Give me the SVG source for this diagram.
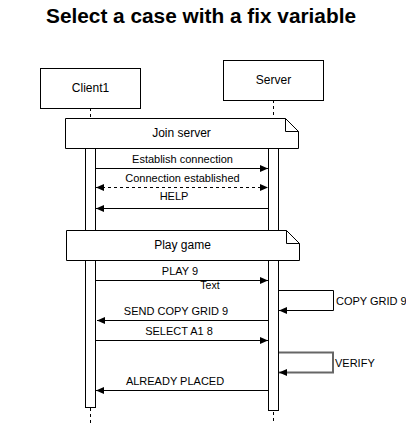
<svg xmlns="http://www.w3.org/2000/svg" width="406" height="423" viewBox="0 0 406 423">
<style>
text{font-family:"Liberation Sans",Arial,sans-serif;fill:#000}
.t{font-size:11px;text-anchor:middle}
.l{font-size:11px;text-anchor:start}
.b{font-size:12px;text-anchor:middle}
.box{fill:#fff;stroke:#000;stroke-width:1}
.life{stroke:#000;stroke-dasharray:3,3;fill:none}
.msg{stroke:#000;stroke-width:1;fill:none}
</style>
<defs>
<marker id="ah" markerWidth="8" markerHeight="7" refX="8" refY="3.5" orient="auto" markerUnits="userSpaceOnUse">
<path d="M0,0 L8,3.5 L0,7 z" fill="#000"/>
</marker>
<marker id="ahs" markerWidth="8" markerHeight="7" refX="0" refY="3.5" orient="auto" markerUnits="userSpaceOnUse">
<path d="M8,0 L0,3.5 L8,7 z" fill="#000"/>
</marker>
</defs>
<rect width="406" height="423" fill="#fff"/>
<text x="46" y="22.5" textLength="310" lengthAdjust="spacingAndGlyphs" style="font-size:19.5px;font-weight:bold">Select a case with a fix variable</text>

<g id="lifelines">
<line class="life" x1="90.5" y1="108" x2="90.5" y2="423"/>
<line class="life" x1="273.5" y1="100" x2="273.5" y2="423"/>
</g>

<g id="client1">
<rect class="box" x="40.5" y="68.5" width="100" height="40"/>
<text class="b" x="90.5" y="92">Client1</text>
</g>
<g id="server">
<rect class="box" x="223.5" y="60.5" width="100" height="40"/>
<text class="b" x="273.5" y="84">Server</text>
</g>

<g id="client1-activation">
<rect class="box" x="85.5" y="125.5" width="10" height="282"/>
</g>
<g id="server-activation">
<rect class="box" x="268.5" y="125.5" width="10" height="285"/>
</g>

<g id="note-join">
<path class="box" d="M65.5,118.5 H285.5 L298.5,131.5 V148.5 H65.5 Z"/>
<path class="msg" d="M285.5,118.5 V131.5 H298.5"/>
<text class="b" x="181.5" y="137">Join server</text>
</g>
<g id="note-play">
<path class="box" d="M66.5,230.5 H286.5 L299.5,243.5 V260.5 H66.5 Z"/>
<path class="msg" d="M286.5,230.5 V243.5 H299.5"/>
<text class="b" x="182.5" y="249">Play game</text>
</g>

<g id="connectors">
<line class="msg" x1="96" y1="168.5" x2="268" y2="168.5" marker-end="url(#ah)"/>
<text class="t" x="182.5" y="163">Establish connection</text>

<line class="msg" x1="96" y1="187.5" x2="268" y2="187.5" stroke-dasharray="3,3" marker-start="url(#ahs)" marker-end="url(#ah)"/>
<text class="t" x="182.5" y="182">Connection established</text>

<line class="msg" x1="268" y1="208.5" x2="96" y2="208.5" marker-end="url(#ah)"/>
<text class="t" x="174" y="200">HELP</text>

<line class="msg" x1="96" y1="280.5" x2="268" y2="280.5" marker-end="url(#ah)"/>
<text class="t" x="180" y="275">PLAY 9</text>
<rect x="199" y="281" width="22" height="12" fill="#fff"/>
<text class="t" x="210" y="289" style="font-size:10.5px">Text</text>

<path class="msg" d="M278.5,290.5 H333.5 V310.5 H279" marker-end="url(#ah)"/>
<text class="l" x="336" y="305">COPY GRID 9</text>

<line class="msg" x1="268" y1="320.5" x2="97" y2="320.5" marker-end="url(#ah)"/>
<text class="t" x="176" y="315">SEND COPY GRID 9</text>

<line class="msg" x1="96" y1="340.5" x2="268" y2="340.5" marker-end="url(#ah)"/>
<text class="t" x="179" y="335">SELECT A1 8</text>

<path class="msg" d="M279,352.5 H333 V372.5 H279" style="stroke:#666;stroke-width:2" marker-end="url(#ah)"/>
<text class="l" x="335" y="367">VERIFY</text>

<line class="msg" x1="269" y1="390.5" x2="96" y2="390.5" marker-end="url(#ah)"/>
<text class="t" x="175" y="385">ALREADY PLACED</text>
</g>
</svg>
